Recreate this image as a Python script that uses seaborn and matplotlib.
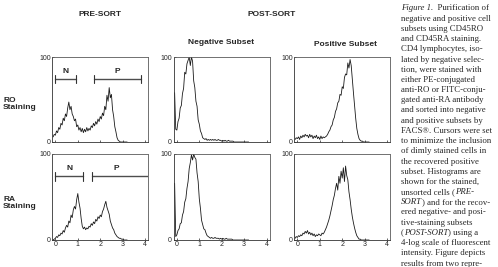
import matplotlib.pyplot as plt
import numpy as np
import pandas as pd
import seaborn as sns

# fluorescence channel (log decades), bins of 0.05
channel = [round(-0.1 + 0.05 * i, 2) for i in range(67)]

ro_pre = [6, 9, 8, 13, 11, 17, 15, 22, 20, 28, 25, 33, 30, 40, 47, 38, 42, 33, 30, 25,
          27, 18, 20, 14, 17, 12, 16, 11, 15, 12, 17, 13, 16, 14, 19, 17, 22, 19, 24, 21,
          27, 24, 30, 27, 34, 31, 42, 38, 55, 48, 64, 52, 56, 38, 30, 18, 12, 5, 2, 1,
          0, 0, 0, 0, 0, 0, 0]
ra_pre = [0, 1, 2, 4, 3, 6, 5, 8, 7, 11, 9, 14, 17, 15, 22, 20, 29, 26, 35, 39,
          36, 47, 54, 44, 37, 25, 16, 13, 15, 12, 14, 13, 16, 15, 19, 17, 21, 19, 24, 22,
          27, 25, 29, 27, 33, 36, 41, 45, 38, 34, 30, 22, 18, 14, 12, 8, 6, 4, 3, 2,
          2, 1, 1, 0, 0, 0, 0]
ro_neg = [58, 15, 14, 24, 28, 40, 43, 57, 63, 82, 80, 92, 96, 100, 90, 100, 95, 72, 64, 48,
          42, 26, 21, 13, 10, 5, 4, 3, 4, 2, 3, 2, 3, 2, 3, 2, 3, 2, 2, 3,
          2, 2, 1, 2, 1, 2, 1, 1, 2, 1, 1, 1, 1, 0, 0, 0, 0, 0, 0, 0,
          0, 0, 0, 0, 0, 0, 0]
ra_neg = [66, 4, 6, 11, 13, 19, 20, 29, 33, 44, 48, 60, 68, 83, 90, 99, 93, 100, 96, 94,
          78, 68, 48, 37, 23, 18, 13, 12, 8, 5, 4, 3, 2, 3, 2, 2, 3, 2, 2, 2,
          1, 2, 1, 2, 1, 1, 2, 1, 1, 1, 1, 1, 0, 0, 0, 0, 0, 0, 0, 0,
          0, 0, 0, 0, 0, 0, 0]
ro_pos = [3, 5, 4, 6, 3, 7, 5, 8, 6, 9, 7, 8, 5, 9, 6, 8, 4, 7, 5, 8,
          4, 6, 3, 7, 4, 6, 5, 6, 7, 9, 12, 14, 18, 20, 26, 29, 36, 39, 46, 48,
          56, 55, 65, 63, 76, 80, 79, 93, 87, 97, 90, 74, 58, 43, 28, 16, 9, 4, 2, 1,
          1, 0, 0, 0, 0, 0, 0]
ra_pos = [2, 4, 3, 5, 4, 6, 5, 8, 7, 10, 8, 11, 7, 9, 6, 8, 5, 7, 4, 6,
          5, 7, 6, 5, 8, 7, 9, 12, 15, 19, 23, 28, 34, 40, 47, 52, 60, 66, 58, 74,
          66, 80, 72, 84, 68, 86, 75, 70, 56, 47, 36, 27, 20, 14, 9, 5, 3, 1, 1, 0,
          0, 0, 0, 0, 0, 0, 0]

# cursor gates set on the pre-sort histograms
ro_gates = {'N': (0.0, 0.9), 'P': (1.72, 3.82)}
ra_gates = {'N': (0.0, 1.24), 'P': (1.64, 4.4)}
gate_level = 74

x_ticks = [0, 1, 2, 3, 4]
y_ticks = [0, 100]

sns.set_style('ticks')
plt.rcParams['font.family'] = ['Liberation Sans', 'DejaVu Sans']

W, H = 498, 267
fig = plt.figure(figsize=(W / 100, H / 100), dpi=100)


def fx(x):
    return x / W


def fy(y):
    return 1 - y / H


cols = [52, 173.5, 294]
rows = [(57, 142), (154, 240)]
curves = [[ro_pre, ro_neg, ro_pos], [ra_pre, ra_neg, ra_pos]]
gates = [ro_gates, ra_gates]

for r, (top, bot) in enumerate(rows):
    for c, left in enumerate(cols):
        ax = fig.add_axes([fx(left), fy(bot), 96 / W, (bot - top) / H])
        df = pd.DataFrame({'channel': channel, 'count': curves[r][c]})
        sns.lineplot(data=df, x='channel', y='count', ax=ax, color='0.1',
                     lw=0.6, estimator=None)
        ax.set_xlim(-0.15, 4.13)
        ax.set_ylim(0, 100)
        ax.set_xlabel('')
        ax.set_ylabel('')
        ax.set_xticks(x_ticks)
        ax.set_yticks(y_ticks)
        ax.tick_params(labelsize=5, length=1.5, width=0.5, pad=1, direction='in')
        if r == 0:
            ax.set_xticklabels([])
        for s in ['left', 'bottom']:
            ax.spines[s].set_linewidth(0.6)
            ax.spines[s].set_color('0.2')
        for s in ['top', 'right']:
            ax.spines[s].set_visible(True)
            ax.spines[s].set_linewidth(0.6)
            ax.spines[s].set_linestyle((0, (1, 1)))
            ax.spines[s].set_color('0.35')
        if c == 0:
            for name, (g0, g1) in gates[r].items():
                ax.plot([g0, g1], [gate_level, gate_level], color='0.3', lw=1.0,
                        clip_on=True)
                for g in (g0, g1):
                    ax.plot([g, g], [gate_level - 5, gate_level + 5], color='0.2',
                            lw=0.8, clip_on=True)
                mid = (g0 + min(g1, 3.82)) / 2 if name == 'P' else (g0 + g1) / 2
                ax.text(mid, gate_level + 5, name, ha='center', va='bottom',
                        fontsize=6, fontweight='bold')

# headings
fig.text(fx(100), fy(15), 'PRE-SORT', ha='center', va='center', fontsize=6, fontweight='bold')
fig.text(fx(272), fy(15), 'POST-SORT', ha='center', va='center', fontsize=6, fontweight='bold')
fig.text(fx(221), fy(43), 'Negative Subset', ha='center', va='center', fontsize=6, fontweight='bold')
fig.text(fx(345), fy(44), 'Positive Subset', ha='center', va='center', fontsize=6, fontweight='bold')
fig.text(fx(3), fy(104), 'RO\nStaining', ha='left', va='center', fontsize=6,
         fontweight='bold', linespacing=1.0)
fig.text(fx(3), fy(203), 'RA\nStaining', ha='left', va='center', fontsize=6,
         fontweight='bold', linespacing=1.0)

# caption, with italic segments marked by True
caption = [
    [('Figure 1.', True), ('  Purification of', False)],
    [('negative and positive cell', False)],
    [('subsets using CD45RO', False)],
    [('and CD45RA staining.', False)],
    [('CD4 lymphocytes, iso-', False)],
    [('lated by negative selec-', False)],
    [('tion, were stained with', False)],
    [('either PE-conjugated', False)],
    [('anti-RO or FITC-conju-', False)],
    [('gated anti-RA antibody', False)],
    [('and sorted into negative', False)],
    [('and positive subsets by', False)],
    [('FACS®. Cursors were set', False)],
    [('to minimize the inclusion', False)],
    [('of dimly stained cells in', False)],
    [('the recovered positive', False)],
    [('subset. Histograms are', False)],
    [('shown for the stained,', False)],
    [('unsorted cells (', False), ('PRE-', True)],
    [('SORT', True), (') and for the recov-', False)],
    [('ered negative- and posi-', False)],
    [('tive-staining subsets', False)],
    [('(', False), ('POST-SORT', True), (') using a', False)],
    [('4-log scale of fluorescent', False)],
    [('intensity. Figure depicts', False)],
    [('results from two repre-', False)],
]

renderer = fig.canvas.get_renderer()
x0, y0, step = 401, 10.5, 10.2
for i, segs in enumerate(caption):
    xpix = x0
    for text, ital in segs:
        t = fig.text(fx(xpix), fy(y0 + i * step), text, ha='left', va='baseline',
                     fontsize=6.3, family=['Liberation Serif', 'DejaVu Serif'],
                     style='italic' if ital else 'normal')
        xpix += t.get_window_extent(renderer).width

fig.savefig('out.png', dpi=100)
